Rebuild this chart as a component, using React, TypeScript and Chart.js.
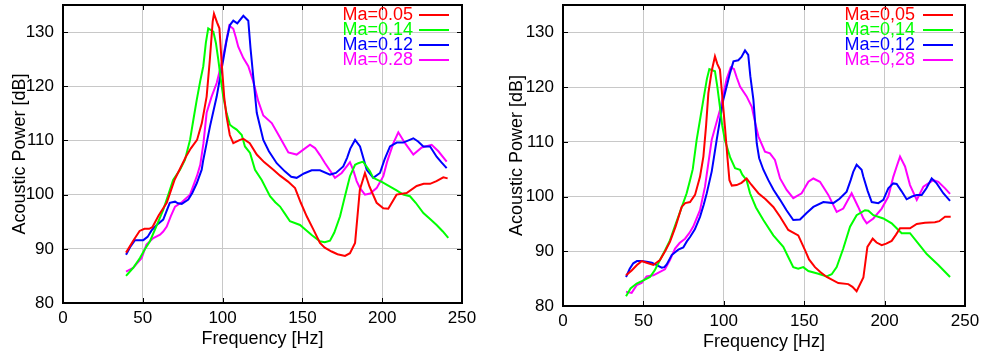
import React, { useEffect, useRef } from 'react';
import { Chart, registerables } from 'chart.js';

Chart.register(...registerables);

// ---- tick values ----
const X_TICKS = [0, 50, 100, 150, 200, 250];
const Y_TICKS = [80, 90, 100, 110, 120, 130];

// ---- legend labels ----
const LEGEND_LEFT = ['Ma=0.05', 'Ma=0.14', 'Ma=0.12', 'Ma=0.28'];
const LEGEND_RIGHT = ['Ma=0,05', 'Ma=0,14', 'Ma=0,12', 'Ma=0,28'];
const COLORS = ['#ff0000', '#00ff00', '#0000ff', '#ff00ff'];

// ---- left panel series: [frequency Hz, acoustic power dB] ----
const L_MA005 = [[39.5,89.3],[44,91.5],[48,93.3],[51,93.7],[54,93.7],[56,94.0],[60,96.2],[65,98.5],[70,102.8],[73,104.6],[77,107],[80,108.5],[84,110.1],[87,113.2],[90,118.1],[92,124.9],[93.8,132],[94.6,133.4],[96.5,131.8],[98,130.7],[99.5,124],[101,118],[102.5,114.4],[104.5,111],[106.7,109.5],[110.9,110.1],[113,110.3],[117,109.5],[121.4,107.4],[126,106],[131.8,104.6],[136,103.5],[141,102.4],[145.4,101.2],[149,98.5],[152.7,96.0],[157,93.5],[161,91.1],[164,90.2],[168.3,89.5],[172,89],[176.7,88.7],[179.8,89.2],[183,91.1],[186,100.9],[189.2,104.0],[192,101.5],[196.5,98.5],[200.7,97.5],[203.8,97.4],[209,100],[215.3,100.3],[221.6,101.6],[226,102],[230,102],[234,102.5],[238.3,103.2],[241,103]];
const L_MA014 = [[39.5,85.0],[44,86.5],[48.2,88.3],[51,89.8],[54.5,91.4],[58,93.8],[62.8,97.2],[66,100],[69,102.7],[73.3,104.6],[76.4,106.4],[79.6,110.1],[81.5,113.5],[83.8,117.5],[86,121],[87.9,123.7],[89.5,128],[91,130.7],[94.2,130.1],[95.8,128],[97.3,124.9],[99,121],[100.4,118.1],[102.5,115],[104.6,112.9],[106.7,112.4],[108.8,112],[112,111],[114,108.9],[117.2,107.7],[120.3,104.6],[124.5,102.7],[129.7,99.7],[133,98.6],[136,97.8],[139,96.5],[142.2,95.1],[148.5,94.4],[152,93.5],[156,92.5],[161,91.4],[164,91.2],[167.3,91.5],[170,93],[173.6,96.0],[176.5,99.5],[179.8,103.4],[183,105.5],[185,105.8],[188,106.1],[192.3,104.3],[194.4,103.1],[200,102.3],[204.9,101.5],[209,100.8],[213.2,100.0],[217.4,99.7],[221,98.5],[225.8,96.6],[230,95.5],[234.1,94.4],[238,93.2],[241.4,92]];
const L_MA012 = [[39.5,88.9],[42,90.3],[45.1,91.6],[50.3,91.6],[53,92.2],[55.5,93.4],[58.7,94.4],[62.8,95.4],[66.9,98.5],[70.2,98.7],[72,98.4],[74.4,98.3],[78.5,99.1],[81,100.3],[83.8,102.1],[86.9,104.6],[87.9,106.4],[90,109.5],[92.1,112.6],[96.3,118.1],[100.4,124.9],[102.5,128.5],[104.6,131.3],[106.7,132.1],[109.2,131.6],[113,133.0],[116.1,132.1],[117.5,127],[119.2,121.8],[121.4,115.1],[125.5,110.1],[129,108],[133.9,105.8],[139,104.3],[143,103.3],[146.4,103.1],[151,103.9],[155.8,104.5],[161,104.5],[167.3,103.7],[171,104],[175.6,105.2],[178,106.8],[180,108.5],[183,110.1],[186.1,108.9],[190.3,104.6],[194.4,103.1],[198.6,104.0],[201.5,106.5],[204.9,108.9],[209.1,109.6],[213.2,109.6],[219.5,110.4],[222.5,109.8],[225.8,108.9],[230,108.9],[234.1,107],[237,106],[240.4,104.9]];
const L_MA028 = [[39.5,85.8],[44,86.5],[49.3,88.3],[52.3,90.8],[56.6,92],[60.8,92.6],[62.8,93.2],[65,94.1],[67.5,96],[70.2,97.8],[74.4,98.6],[79.6,100],[84,103.5],[86,105.5],[88,109.5],[90,115.1],[93,118],[96.3,120.6],[100.4,125.5],[104.2,131.2],[106.7,130.6],[108.3,129],[109.8,127.3],[113,125.2],[116.1,123.7],[119.2,120.9],[122.4,117.2],[125.5,114.6],[130.8,113.2],[134.9,111.1],[141.2,107.8],[146.4,107.4],[150.6,108.3],[154.8,109.2],[157.9,108.6],[161,107.3],[164.2,105.8],[170.4,103.1],[174.6,104],[179.8,106.0],[181.9,104.5],[184,102.5],[186.1,101.2],[189.2,100],[192.4,100.2],[196.5,101.2],[200.7,103.4],[203,106],[207,109.5],[210.1,111.5],[214.3,109.5],[219.5,107.4],[224.8,108.7],[231,109.2],[235.2,108],[240.4,106.1]];

// ---- right panel series ----
const R_MA005 = [[39.2,85.6],[42.7,86.5],[46,87.5],[48.9,88.2],[52,87.9],[56.2,87.5],[60.3,88.4],[63.5,90],[66.5,91.7],[70,94.5],[73.8,98.1],[76,98.8],[79,99.0],[82.1,100.3],[85.2,103.6],[87.3,107.3],[89,113],[90.4,118.9],[92.5,123],[94.5,125.6],[96,124.2],[97.6,123.2],[99,118.5],[100.7,112.8],[102.3,107],[103.5,103],[105,102],[108,102.1],[111,102.5],[114.2,103.3],[117,102.2],[121.5,100.6],[126,99.5],[130.8,98.1],[135,96.3],[140.1,93.9],[146.3,92.9],[150.5,90.2],[153,88.5],[156.7,87.1],[160,86.2],[164,85.3],[171.2,84.2],[177.4,84],[180,83.5],[182.6,82.7],[186.8,85.2],[189.3,90.8],[192.6,92.3],[195,91.6],[198.2,91.1],[201,91.4],[204.4,91.9],[207,93],[209.6,94.2],[215.8,94.2],[220,95.0],[225.1,95.2],[231.3,95.3],[234,95.5],[237.6,96.3],[241.1,96.3]];
const R_MA014 = [[39.2,81.8],[42,83.2],[45.8,84.1],[50,84.7],[54.1,85.3],[57,86.5],[60.3,88.4],[63.5,90.2],[66.5,92.0],[69.5,94.5],[72.8,97.2],[76.9,100.6],[79,103],[80.7,105],[83.1,110.3],[87.3,117.7],[89.5,121.5],[91,123.3],[94.5,122.9],[96,120],[97.6,116.4],[99,113],[100.7,110.3],[103.9,107.2],[107,105.2],[110.1,104.9],[111.5,104],[114.2,103],[116.3,100.6],[120,98],[124.6,95.7],[130.8,92.9],[137,90.8],[140,89],[143.2,87.1],[146.3,86.8],[149.4,87.1],[152.6,86.4],[158.8,85.9],[164,85.4],[167.1,85.8],[170.2,87.1],[174.3,90.5],[178.5,94.5],[182.6,96.6],[187.8,97.5],[189.9,97.4],[193,96.6],[199.2,96.0],[204.4,95.1],[207.5,94.2],[210.6,93.3],[215.8,93.3],[221,91.4],[226.2,89.5],[233.4,87.5],[240.7,85.3]];
const R_MA012 = [[39.2,85.3],[41.5,86.8],[43.7,87.8],[46,88.2],[48.9,88.2],[52,88.1],[55.2,87.9],[58,87.5],[61.4,87.0],[63,87.1],[64.5,87.6],[67.6,89.3],[71.7,90.3],[74.8,90.7],[77,91.8],[79,92.6],[82,94],[85.2,96.3],[87.5,98.5],[89.4,100.6],[92.5,104.6],[95.6,110.4],[99.7,117.7],[103.9,122.6],[106,124.7],[109,124.9],[111,125.5],[113.2,126.7],[115.2,125.9],[116.5,122],[118.4,117.7],[120.5,109.7],[122,107],[124.6,104.9],[127.7,103],[131,101.2],[135,99.4],[139,97.5],[143.2,95.7],[147.4,95.8],[151.5,97],[155.7,98.1],[161.9,99.0],[168.1,98.8],[172,99.6],[176.4,100.9],[178.9,103.0],[180.5,104.5],[182.6,105.8],[185.7,104.9],[186.8,103.6],[189.5,101],[192,99.0],[196.1,98.8],[199.2,99.4],[202.3,101.5],[205.4,102.4],[207.5,102.3],[210.5,101],[213.7,99.5],[217,100],[220,100.3],[223.1,100.3],[226,101.5],[229.3,103.3],[232.4,102.4],[236.5,100.6],[240.7,99.2]];
const R_MA028 = [[39.2,82.6],[42.7,82.4],[45.8,83.8],[48.9,84.2],[52,85.4],[56.2,85.6],[60,86.2],[63.4,86.7],[66.5,88.4],[69.7,90.5],[72.5,91.5],[75.9,92.3],[78.5,93.3],[81,94.5],[85.2,97.5],[88.3,101.8],[92.5,110.4],[97.6,115.8],[101.8,121.5],[104.3,123.6],[106.3,123.3],[108,121.8],[110.1,120.1],[114.2,118.3],[117.4,116.4],[119.5,113.5],[121.5,111],[125.6,108.2],[128.7,107.9],[131.8,106.7],[135,103.3],[139.1,101.2],[143.2,99.7],[148.4,100.6],[152.6,102.7],[155.7,103.3],[159.8,102.7],[165,100.3],[170.2,97.2],[174.3,97.8],[179.5,100.6],[183.6,98.1],[186.8,96.0],[188.9,95.1],[193,96.0],[198.2,97.8],[202.3,100],[205.4,103.6],[207.5,105.5],[209.6,107.3],[212.7,105.5],[215.8,102.1],[220,99.4],[224.1,101.8],[230.3,103],[233.4,102.7],[237.6,101.5],[240.7,100.5]];

const FONT = "'Liberation Sans', Arial, Helvetica, sans-serif";

const frameLegendPlugin = {
  id: 'frameLegend',
  afterDatasetsDraw(chart: any, _args: any, opts: any) {
    const { ctx, chartArea } = chart;
    const { left, right, top, bottom } = chartArea;
    const xs = chart.scales.x;
    const ys = chart.scales.y;
    ctx.save();
    ctx.strokeStyle = '#000';
    ctx.lineWidth = 1;
    const tl = 5;
    ctx.beginPath();
    X_TICKS.forEach((v) => {
      const px = Math.round(xs.getPixelForValue(v)) + 0.5;
      if (v === xs.min || v === xs.max) return;
      ctx.moveTo(px, bottom); ctx.lineTo(px, bottom - tl);
      ctx.moveTo(px, top); ctx.lineTo(px, top + tl);
    });
    Y_TICKS.forEach((v) => {
      const py = Math.round(ys.getPixelForValue(v)) + 0.5;
      if (v === ys.min) return;
      ctx.moveTo(left, py); ctx.lineTo(left + tl, py);
      ctx.moveTo(right, py); ctx.lineTo(right - tl, py);
    });
    ctx.stroke();
    ctx.lineWidth = 2;
    ctx.strokeRect(left, top, right - left, bottom - top);

    // legend
    const labels: string[] = opts.labels || [];
    ctx.font = `${opts.fontSize}px ${FONT}`;
    ctx.textAlign = 'right';
    ctx.textBaseline = 'middle';
    labels.forEach((t, i) => {
      const y = top + opts.rowTop + i * opts.rowStep;
      ctx.fillStyle = COLORS[i];
      ctx.fillText(t, right - opts.textRight, y);
      ctx.strokeStyle = COLORS[i];
      ctx.lineWidth = 2;
      ctx.beginPath();
      ctx.moveTo(right - opts.lineStart, y);
      ctx.lineTo(right - opts.lineEnd, y);
      ctx.stroke();
    });
    ctx.restore();
  },
};

function makeConfig(series: number[][][], labels: string[], g: any) {
  return {
    type: 'line',
    data: {
      datasets: series.map((s, i) => ({
        label: labels[i],
        data: s.map(([x, y]) => ({ x, y })),
        borderColor: COLORS[i],
        backgroundColor: COLORS[i],
        borderWidth: 2,
        pointRadius: 0,
        tension: 0,
        fill: false,
      })),
    },
    options: {
      animation: false,
      responsive: false,
      devicePixelRatio: 1,
      layout: { padding: { top: 5, right: g.padRight, left: 0, bottom: 0 } },
      plugins: {
        legend: { display: false },
        tooltip: { enabled: false },
        frameLegend: {
          labels,
          fontSize: 18,
          textRight: g.textRight,
          lineStart: g.lineStart,
          lineEnd: g.lineEnd,
          rowTop: 10,
          rowStep: 15,
        },
      },
      scales: {
        x: {
          type: 'linear',
          min: 0,
          max: 250,
          afterBuildTicks: (s: any) => { s.ticks = X_TICKS.map((v) => ({ value: v })); },
          afterFit: (s: any) => { s.height = g.xH; s.paddingLeft = 0; s.paddingRight = 0; },
          grid: { color: '#c8c8c8', drawTicks: false, lineWidth: 1 },
          border: { display: false },
          ticks: { padding: 5, color: '#000', font: { family: FONT, size: 17 }, maxRotation: 0, autoSkip: false },
          title: { display: true, text: 'Frequency [Hz]', color: '#000', font: { family: FONT, size: 18 }, padding: { top: 0, bottom: g.xTitlePad } },
        },
        y: {
          type: 'linear',
          min: 80,
          max: 135,
          afterBuildTicks: (s: any) => { s.ticks = Y_TICKS.map((v) => ({ value: v })); },
          afterFit: (s: any) => { s.width = g.yW; s.paddingTop = 0; s.paddingBottom = 0; },
          grid: { color: '#c8c8c8', drawTicks: false, lineWidth: 1 },
          border: { display: false },
          ticks: { padding: 9, color: '#000', font: { family: FONT, size: 17 } },
          title: { display: true, text: 'Acoustic Power [dB]', color: '#000', font: { family: FONT, size: 18 }, padding: { top: g.yTitlePad, bottom: 0 } },
        },
      },
    },
    plugins: [frameLegendPlugin],
  };
}

function Panel({ series, labels, g, left, width }: any) {
  const ref = useRef<HTMLCanvasElement>(null);
  useEffect(() => {
    const chart = new Chart(ref.current as HTMLCanvasElement, makeConfig(series, labels, g) as any);
    return () => chart.destroy();
  }, []);
  return (
    <canvas
      ref={ref}
      width={width}
      height={356}
      style={{ position: 'absolute', left, top: 0, width, height: 356, display: 'block' }}
    />
  );
}

export default function App() {
  return (
    <div style={{ position: 'absolute', left: 0, top: 0, width: 984, height: 356, background: '#fff', overflow: 'hidden' }}>
      <Panel
        series={[L_MA005, L_MA014, L_MA012, L_MA028]}
        labels={LEGEND_LEFT}
        left={0}
        width={490}
        g={{ padRight: 28, xH: 53, yW: 63, xTitlePad: 6, yTitlePad: 9, textRight: 49, lineStart: 43, lineEnd: 13 }}
      />
      <Panel
        series={[R_MA005, R_MA014, R_MA012, R_MA028]}
        labels={LEGEND_RIGHT}
        left={490}
        width={494}
        g={{ padRight: 19, xH: 50, yW: 73, xTitlePad: 3, yTitlePad: 16, textRight: 50, lineStart: 42, lineEnd: 12 }}
      />
    </div>
  );
}
